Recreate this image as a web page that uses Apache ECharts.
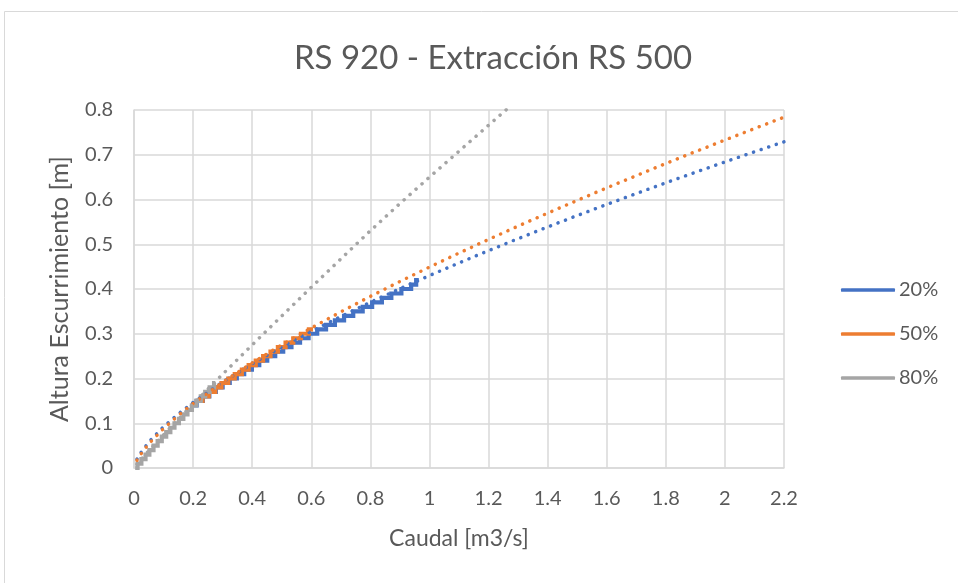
<!DOCTYPE html>
<html>
<head>
<meta charset="utf-8">
<script src="https://cdn.jsdelivr.net/npm/echarts@6/dist/echarts.min.js"></script>
<style>
html,body{margin:0;padding:0;background:#fff;}
#chart{width:958px;height:583px;}
</style>
</head>
<body>
<div id="chart"></div>
<script>
// Axis ticks
const xTicks = [0, 0.2, 0.4, 0.6, 0.8, 1, 1.2, 1.4, 1.6, 1.8, 2, 2.2];
const yTicks = [0, 0.1, 0.2, 0.3, 0.4, 0.5, 0.6, 0.7, 0.8];
const seriesNames = ['20%', '50%', '80%'];

// Measured data (stepped) — caudal [m3/s] and altura [m]
const blueQ = [0.200, 0.212, 0.233, 0.255, 0.277, 0.300, 0.324, 0.348, 0.373, 0.399, 0.424, 0.451, 0.478, 0.505, 0.533, 0.562, 0.591, 0.620, 0.650, 0.680, 0.711, 0.742, 0.774, 0.806, 0.839, 0.871, 0.905, 0.938, 0.955, 0.964];
const blueH = [0.14, 0.15, 0.16, 0.17, 0.18, 0.19, 0.20, 0.21, 0.22, 0.23, 0.24, 0.25, 0.26, 0.27, 0.28, 0.29, 0.30, 0.31, 0.32, 0.33, 0.34, 0.35, 0.36, 0.37, 0.38, 0.39, 0.40, 0.41, 0.42, 0.42];

const orangeQ = [0.220, 0.232, 0.253, 0.275, 0.296, 0.319, 0.341, 0.365, 0.388, 0.412, 0.437, 0.462, 0.487, 0.513, 0.539, 0.565, 0.592, 0.606];
const orangeH = [0.15, 0.16, 0.17, 0.18, 0.19, 0.20, 0.21, 0.22, 0.23, 0.24, 0.25, 0.26, 0.27, 0.28, 0.29, 0.30, 0.31, 0.31];

const grayQ = [0.004, 0.012, 0.025, 0.039, 0.052, 0.066, 0.080, 0.094, 0.109, 0.123, 0.137, 0.152, 0.167, 0.181, 0.196, 0.211, 0.226, 0.241, 0.256, 0.271, 0.275];
const grayH = [0.00, 0.01, 0.02, 0.03, 0.04, 0.05, 0.06, 0.07, 0.08, 0.09, 0.10, 0.11, 0.12, 0.13, 0.14, 0.15, 0.16, 0.17, 0.18, 0.19, 0.19];

// Trendlines (dotted)
const trendQ = [0.01, 0.02, 0.05, 0.1, 0.15, 0.2, 0.3, 0.4, 0.5, 0.6, 0.7, 0.8, 0.9, 1.0, 1.1, 1.2, 1.3, 1.4, 1.5, 1.6, 1.7, 1.8, 1.9, 2.0, 2.1, 2.2];
const blueTrend = [0.0197, 0.0313, 0.0579, 0.0921, 0.1208, 0.1464, 0.192, 0.2329, 0.2703, 0.3054, 0.3387, 0.3703, 0.4007, 0.430, 0.4583, 0.4858, 0.5126, 0.5387, 0.5641, 0.589, 0.6134, 0.6373, 0.6608, 0.6839, 0.7066, 0.729];
const orangeTrend = [0.0173, 0.0282, 0.054, 0.0881, 0.1174, 0.1439, 0.1917, 0.2349, 0.2751, 0.3129, 0.3489, 0.3835, 0.4168, 0.449, 0.4803, 0.5108, 0.5405, 0.5696, 0.598, 0.626, 0.6533, 0.6804, 0.7069, 0.7329, 0.7586, 0.784];
const grayTrend = [0.0084, 0.0161, 0.0384, 0.074, 0.1086, 0.1427, 0.2095, 0.275, 0.3397, 0.4038, 0.4672, 0.5302, 0.591, 0.650, 0.708, 0.766, 0.824];

const colors = ['#4472C4', '#ED7D31', '#A5A5A5'];
const FONT = 'Lato';
const TXT = '#595959';

function pairs(xs, ys) { return ys.map((y, i) => [xs[i], y]); }

function dataSeries(name, xs, ys, color) {
  return {
    name: name, type: 'line', step: 'end', showSymbol: false, symbol: 'none',
    data: pairs(xs, ys), color: color,
    lineStyle: { color: color, width: 4.2, cap: 'butt', join: 'miter' },
    itemStyle: { color: color },
    z: 2
  };
}
function trendSeries(name, xs, ys, color) {
  return {
    name: name, type: 'line', showSymbol: false, symbol: 'none',
    data: pairs(xs, ys), color: color, clip: true,
    lineStyle: { color: color, width: 3.5, type: [0.1, 7.9], cap: 'round' },
    z: 3
  };
}

const chart = echarts.init(document.getElementById('chart'), null, { renderer: 'canvas' });
chart.setOption({
  animation: false,
  backgroundColor: '#ffffff',
  textStyle: { fontFamily: FONT },
  graphic: [{
    type: 'rect', shape: { x: 4.5, y: 11.5, width: 1100, height: 1100 },
    style: { fill: 'none', stroke: '#d9d9d9', lineWidth: 1 }, silent: true, z: -10
  }],
  title: {
    text: 'RS 920 - Extracción RS 500',
    left: 488, top: 37, textAlign: 'center',
    textStyle: { fontFamily: FONT, fontSize: 33, fontWeight: 'normal', color: TXT }
  },
  legend: {
    orient: 'vertical', left: 836, top: 274,
    data: seriesNames, icon: 'roundRect', itemWidth: 54, itemHeight: 3.5, itemGap: 22,
    textStyle: { fontFamily: FONT, fontSize: 20, color: TXT, lineHeight: 22, padding: [0, 0, 0, -1] },
    selectedMode: false
  },
  grid: { left: 134, right: 174, top: 110, bottom: 115, containLabel: false },
  xAxis: {
    type: 'value', min: 0, max: 2.2, interval: 0.2,
    name: 'Caudal [m3/s]', nameLocation: 'middle', nameGap: 59,
    nameTextStyle: { fontFamily: FONT, fontSize: 23, color: TXT },
    axisLine: { show: true, lineStyle: { color: '#d9d9d9', width: 1.5 } },
    axisTick: { show: false },
    splitLine: { show: true, lineStyle: { color: '#d9d9d9', width: 1.5 } },
    axisLabel: { fontFamily: FONT, fontSize: 20, color: TXT, margin: 21,
      formatter: v => String(parseFloat(v.toFixed(1))) }
  },
  yAxis: {
    type: 'value', min: 0, max: 0.8, interval: 0.1,
    name: 'Altura Escurrimiento [m]', nameLocation: 'middle', nameGap: 62, nameRotate: 90,
    nameTextStyle: { fontFamily: FONT, fontSize: 25, color: TXT },
    axisLine: { show: true, lineStyle: { color: '#d9d9d9', width: 1.5 } },
    axisTick: { show: false },
    splitLine: { show: true, lineStyle: { color: '#d9d9d9', width: 1.5 } },
    axisLabel: { fontFamily: FONT, fontSize: 20, color: TXT, margin: 21,
      formatter: v => String(parseFloat(v.toFixed(1))) }
  },
  series: [
    dataSeries(seriesNames[0], blueQ, blueH, colors[0]),
    dataSeries(seriesNames[1], orangeQ, orangeH, colors[1]),
    dataSeries(seriesNames[2], grayQ, grayH, colors[2]),
    trendSeries('Tendencia 20%', trendQ, blueTrend, colors[0]),
    trendSeries('Tendencia 50%', trendQ, orangeTrend, colors[1]),
    trendSeries('Tendencia 80%', trendQ.slice(0, grayTrend.length), grayTrend, colors[2])
  ]
});
</script>
</body>
</html>
